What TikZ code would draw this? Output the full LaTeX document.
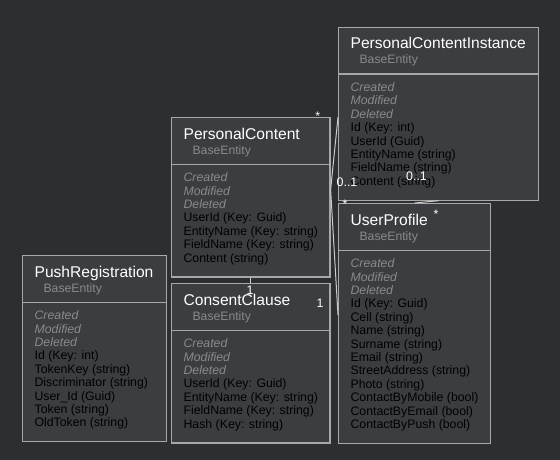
\documentclass[tikz,border=0pt]{standalone}
\usepackage{fontspec}
\setmainfont{Liberation Sans}
\usepackage{xcolor}
\usetikzlibrary{shapes.multipart,calc}
\definecolor{DiagramBack}{HTML}{2D2E30}
\definecolor{ClassFill}{HTML}{3B3D40}
\definecolor{ClassBorder}{HTML}{A8A8A8}
\definecolor{MutedText}{HTML}{8A8A8A}
\definecolor{LinkLine}{HTML}{CCCCCC}

\newcommand{\classhead}[1]{\rule{0pt}{17pt}{\fontsize{15.6}{15.6}\selectfont #1}\\[1.6pt]%
   \hspace*{9pt}{\fontsize{12.2}{12.2}\selectfont\color{MutedText}BaseEntity}\rule[-5.5pt]{0pt}{5.5pt}}
\newcommand{\auditfields}{\rule{0pt}{12.8pt}{\color{MutedText}\itshape Created}\\%
   {\color{MutedText}\itshape Modified}\\{\color{MutedText}\itshape Deleted}}
\newcommand{\lastfield}{\rule[-10.3pt]{0pt}{10.3pt}}

\tikzset{
   umlclass/.style={rectangle split, rectangle split parts=2,
      rectangle split part align=left, align=left,
      draw=ClassBorder, fill=ClassFill, line width=1.2pt,
      anchor=north west, inner xsep=12pt, inner ysep=4pt,
      minimum width=#1, text=white,
      font=\fontsize{12.3}{13.4}\selectfont},
   mult/.style={anchor=base, inner sep=0pt, text=white,
      font=\fontsize{12.4}{12.4}\selectfont},
   link/.style={draw=LinkLine, line width=1pt}
}

\begin{document}
\begin{tikzpicture}[x=1pt,y=-1pt]
   \fill[DiagramBack] (0,0) rectangle (560,460);

   \node[umlclass=200pt] (pci) at (338,26.7) {\classhead{PersonalContentInstance}
      \nodepart{two}\auditfields\\Id (Key: int)\\UserId (Guid)\\EntityName (string)\\
      FieldName (string)\\Content (string)\lastfield};
   \node[umlclass=156.7pt] (pc) at (171,117) {\classhead{PersonalContent}
      \nodepart{two}\auditfields\\UserId (Key: Guid)\\EntityName (Key: string)\\
      FieldName (Key: string)\\Content (string)\lastfield};
   \node[umlclass=156.7pt] (cc) at (171,283) {\classhead{ConsentClause}
      \nodepart{two}\auditfields\\UserId (Key: Guid)\\EntityName (Key: string)\\
      FieldName (Key: string)\\Hash (Key: string)\lastfield};
   \node[umlclass=152pt] (up) at (338,203) {\classhead{UserProfile}
      \nodepart{two}\auditfields\\Id (Key: Guid)\\Cell (string)\\Name (string)\\
      Surname (string)\\Email (string)\\StreetAddress (string)\\Photo (string)\\
      ContactByMobile (bool)\\ContactByEmail (bool)\\ContactByPush (bool)\lastfield};
   \node[umlclass=143.7pt] (pr) at (22,255) {\classhead{PushRegistration}
      \nodepart{two}\auditfields\\Id (Key: int)\\TokenKey (string)\\Discriminator (string)\\
      User\_Id (Guid)\\Token (string)\\OldToken (string)\lastfield};

   % associations
   \coordinate (pcRight) at ($(pc.north east)!0.452!(pc.south east)$);
   \coordinate (pciLeft) at ($(pci.north west)!0.52!(pci.south west)$);
   \coordinate (upLeft) at ($(up.north west)!0.464!(up.south west)$);
   \draw[link] (pcRight) -- (pciLeft);
   \draw[link] (pcRight) -- (upLeft);
   \draw[link] (up.north) -- (pci.south);
   \draw[link] (pc.south) -- (cc.north);

   % multiplicities
   \node[mult] (mPcTop) at (317.7,120.2) {*};
   \node[mult] (mPcInst) at (347,186) {0..1};
   \node[mult] (mInstUp) at (416.5,180.3) {0..1};
   \node[mult] (mUpCorner) at (345,208.6) {*};
   \node[mult] (mUpTitle) at (436,218.6) {*};
   \node[mult] (mCcTop) at (250,294.3) {1};
   \node[mult] (mCcRight) at (320,307.6) {1};
\end{tikzpicture}
\end{document}
